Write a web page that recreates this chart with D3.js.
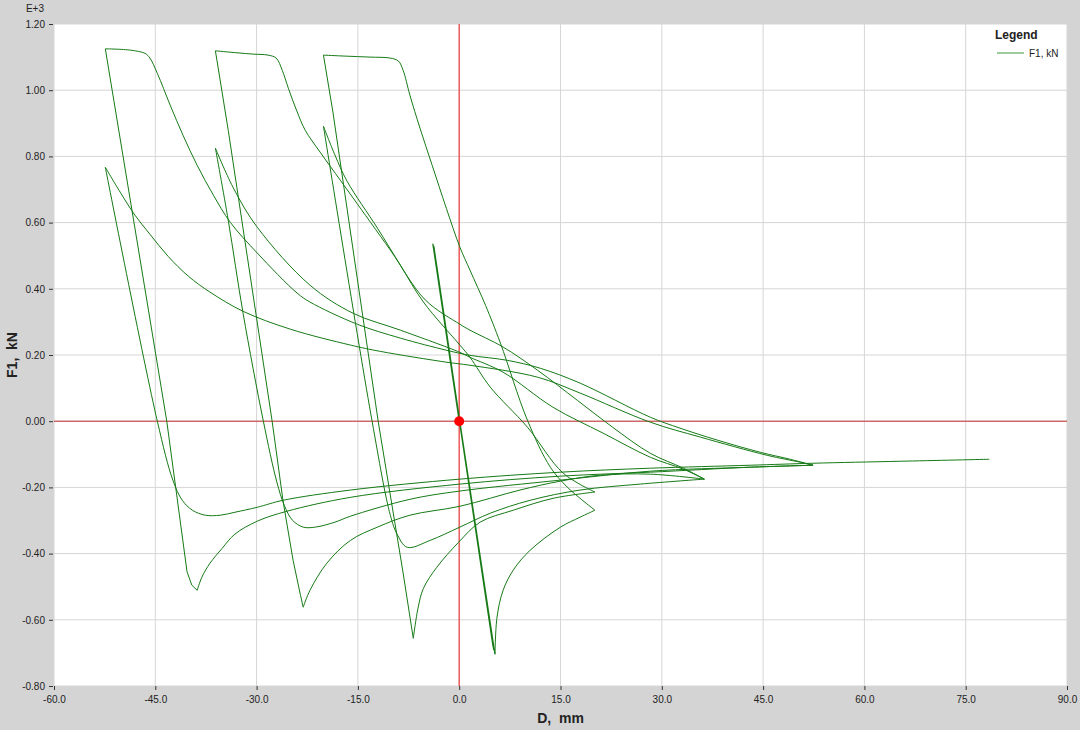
<!DOCTYPE html>
<html><head><meta charset="utf-8">
<script src="https://cdn.jsdelivr.net/npm/d3@7"></script>
<style>
html,body{margin:0;padding:0;background:#d4d4d4;}
svg{display:block;}
text{font-family:"Liberation Sans",Arial,sans-serif;}
</style></head>
<body>
<svg id="chart" width="1080" height="730"></svg>
<script>
// ---- data: D (mm), F1 (kN), traced branch by branch in test order ----
const xTicks = [-60, -45, -30, -15, 0, 15, 30, 45, 60, 75, 90];
const yTicks = [-800, -600, -400, -200, 0, 200, 400, 600, 800, 1000, 1200];
const seriesName = "F1, kN";

const elasticStart = [[0,0],[-3.9,535],[5.1,-690],[-3.75,528],[5.0,-680],[-3.85,532],[5.3,-704]];
const relaxD  = [[5.3,-704],[5.6,-592],[6.5,-511],[8.0,-450],[10.5,-390],[15.0,-320],[17.9,-290],[20.1,-269]];
const virginC = [[20.1,-269],[16.0,-199],[13.5,-139],[10.1,3],[6.1,236],[3.9,350],[1.6,456],[0.1,526],[-1.9,643],[-4.0,773],[-5.8,885],[-7.3,985],[-8.3,1060],[-9.0,1088],[-10.2,1097],[-13.2,1100],[-16.9,1103],[-20.1,1106]];
const unloadC = [[-20.1,1106],[-18.7,934],[-12.0,0],[-8.3,-459],[-6.8,-656]];
const relaxC  = [[-6.8,-656],[-6.1,-565],[-5.3,-505],[-3.3,-441],[-0.1,-366],[3.1,-305],[8.0,-269],[13.9,-233],[20.1,-214]];
const reloadC = [[20.1,-214],[15.4,-157],[10.1,-18],[4.6,103],[1.6,193],[0.1,230],[-5.3,360],[-8.7,471],[-12.1,583],[-16.6,725],[-18.4,804],[-20.1,891]];
const troughC = [[-20.1,891],[-12.9,0],[-10.2,-284],[-9.2,-341],[-7.7,-381],[-4.3,-360],[0.1,-320],[4.6,-278],[10.5,-239],[17.9,-208],[26.8,-190],[36.3,-175]];
const virginB = [[36.3,-175],[33.2,-142],[28.3,-97],[22.7,-18],[17.5,63],[11.6,154],[6.5,224],[1.6,275],[0.1,293],[-5.0,366],[-10.2,517],[-15.7,674],[-17.6,728],[-20.6,813],[-22.8,879],[-24.1,940],[-25.3,1006],[-26.2,1060],[-27.1,1097],[-28.3,1106],[-30.5,1109],[-32.9,1113],[-36.1,1119]];
const unloadB = [[-36.1,1119],[-34.2,879],[-27.7,0],[-26.1,-239],[-24.6,-420],[-23.5,-526],[-23.1,-562]];
const relaxB  = [[-23.1,-562],[-22.1,-511],[-19.6,-429],[-16.1,-360],[-12.1,-320],[-7.3,-284],[0.1,-257],[9.0,-208],[15.0,-181],[20.9,-163],[28.3,-160],[36.3,-175]];
const reloadB = [[36.3,-175],[33.2,-145],[28.3,-109],[21.3,-36],[13.9,42],[6.5,148],[1.6,193],[0.1,208],[-8.7,275],[-15.7,326],[-22.1,411],[-29.9,586],[-33.5,707],[-36.1,825]];
const troughB = [[-36.1,825],[-34.2,607],[-32.0,326],[-29.0,0],[-27.0,-184],[-25.9,-254],[-24.7,-299],[-23.1,-320],[-21.3,-320],[-18.4,-305],[-16.1,-287],[-7.3,-236],[0.1,-211],[15.0,-178],[28.3,-151],[43.1,-139],[52.4,-133]];
const virginA = [[52.4,-133],[49.0,-115],[44.6,-94],[38.2,-57],[32.7,-21],[28.3,12],[17.9,115],[12.0,160],[7.1,184],[1.6,199],[-1.8,214],[-8.7,251],[-15.1,293],[-22.1,360],[-24.0,387],[-29.9,508],[-33.9,601],[-36.4,683],[-38.8,773],[-40.9,864],[-42.8,955],[-44.7,1051],[-45.8,1097],[-46.5,1111],[-48.7,1121],[-52.4,1125]];
const unloadA = [[-52.4,1125],[-43.3,0],[-40.3,-455],[-39.6,-495],[-38.8,-511]];
const relaxA  = [[-38.8,-511],[-38.1,-471],[-36.9,-429],[-35.1,-384],[-33.2,-341],[-29.9,-302],[-25.5,-272],[-16.1,-230],[0.1,-190],[15.0,-166],[28.3,-154],[43.1,-139],[52.4,-133]];
const reloadA = [[52.4,-133],[50.5,-124],[45.6,-103],[35.7,-48],[28.3,-3],[17.9,85],[11.6,133],[1.6,169],[-1.8,178],[-11.7,211],[-16.1,230],[-25.0,278],[-32.0,332],[-36.9,390],[-40.1,438],[-43.1,498],[-45.8,565],[-48.0,622],[-50.2,692],[-52.4,767]];
const troughA = [[-52.4,767],[-44.7,0],[-42.4,-178],[-41.0,-239],[-39.5,-269],[-37.6,-284],[-35.4,-284],[-33.2,-275],[-29.9,-260],[-26.1,-239],[-16.1,-208],[0.1,-175],[15.0,-154],[28.3,-142],[43.1,-133],[52.4,-127],[65.3,-121],[78.5,-115]];

const curvedBranches = [relaxD, virginC, relaxC, reloadC, troughC, virginB, relaxB,
                        reloadB, troughB, virginA, relaxA, reloadA, troughA];
const straightBranches = [elasticStart, unloadC, unloadB, unloadA];

// ---- layout ----
const L = 54, R = 1067, T = 24, B = 686;
const svg = d3.select("#chart");
const x = d3.scaleLinear().domain([-60, 90]).range([L, R]);
const y = d3.scaleLinear().domain([-800, 1200]).range([B, T]);

svg.append("rect").attr("width", 1080).attr("height", 730).attr("fill", "#d4d4d4");
svg.append("rect").attr("x", L).attr("y", T).attr("width", R - L).attr("height", B - T).attr("fill", "#ffffff");

// grid
const g = svg.append("g");
g.selectAll(".vg").data(xTicks).join("line")
  .attr("x1", d => x(d)).attr("x2", d => x(d)).attr("y1", T).attr("y2", B)
  .attr("stroke", "#d6d6d6").attr("stroke-width", 1);
g.selectAll(".hg").data(yTicks).join("line")
  .attr("y1", d => y(d)).attr("y2", d => y(d)).attr("x1", L).attr("x2", R)
  .attr("stroke", "#d6d6d6").attr("stroke-width", 1);

// zero lines
svg.append("line").attr("x1", x(0)).attr("x2", x(0)).attr("y1", T).attr("y2", B)
  .attr("stroke", "#f04a4a").attr("stroke-width", 1.3);
svg.append("line").attr("x1", L).attr("x2", R).attr("y1", y(0)).attr("y2", y(0))
  .attr("stroke", "#c83030").attr("stroke-width", 1);

// data
const lineColor = "#167a16";
const lineLin = d3.line().x(d => x(d[0])).y(d => y(d[1]));
const lineCurve = d3.line().x(d => x(d[0])).y(d => y(d[1])).curve(d3.curveCatmullRom.alpha(0.5));
svg.selectAll(".st").data(straightBranches).join("path")
  .attr("d", d => lineLin(d)).attr("fill", "none")
  .attr("stroke", lineColor).attr("stroke-width", (d, i) => i === 0 ? 1.2 : 1).attr("stroke-linejoin", "round");
svg.selectAll(".br").data(curvedBranches).join("path")
  .attr("d", d => lineCurve(d)).attr("fill", "none")
  .attr("stroke", lineColor).attr("stroke-width", 1).attr("stroke-linejoin", "round");

// origin marker
svg.append("circle").attr("cx", x(0)).attr("cy", y(0)).attr("r", 5).attr("fill", "#ff0000");

// axes
const xAxis = d3.axisBottom(x).tickValues(xTicks).tickFormat(d => d.toFixed(1)).tickSize(4).tickPadding(6);
const yAxis = d3.axisLeft(y).tickValues(yTicks).tickFormat(d => (d / 1000).toFixed(2)).tickSize(4).tickPadding(4);
const gx = svg.append("g").attr("transform", `translate(0,${B})`).call(xAxis);
const gy = svg.append("g").attr("transform", `translate(${L - 1},0)`).call(yAxis);
[gx, gy].forEach(a => {
  a.select(".domain").remove();
  a.selectAll(".tick line").attr("stroke", "#333");
  a.selectAll(".tick text").attr("fill", "#222").style("font-size", "10px")
   .style("font-family", '"Liberation Sans", Arial, sans-serif');
});

svg.append("text").attr("x", 44).attr("y", 12).attr("text-anchor", "end")
  .style("font-size", "10px").attr("fill", "#222").text("E+3");

svg.append("text").attr("x", (L + R) / 2).attr("y", 723).attr("text-anchor", "middle")
  .style("font-size", "14px").style("font-weight", "bold").style("white-space", "pre")
  .attr("fill", "#222").text("D,  mm");
svg.append("text").attr("transform", `translate(17,${(T + B) / 2}) rotate(-90)`).attr("text-anchor", "middle")
  .style("font-size", "14px").style("font-weight", "bold").style("white-space", "pre")
  .attr("fill", "#222").text("F1,  kN");

// legend
svg.append("text").attr("x", 995).attr("y", 39).style("font-size", "12px").style("font-weight", "bold")
  .attr("fill", "#222").text("Legend");
svg.append("line").attr("x1", 997).attr("x2", 1024).attr("y1", 53).attr("y2", 53)
  .attr("stroke", "#3a9a3a").attr("stroke-width", 1);
svg.append("text").attr("x", 1029).attr("y", 56.5).style("font-size", "10px")
  .attr("fill", "#222").text(seriesName);
</script>
</body></html>
